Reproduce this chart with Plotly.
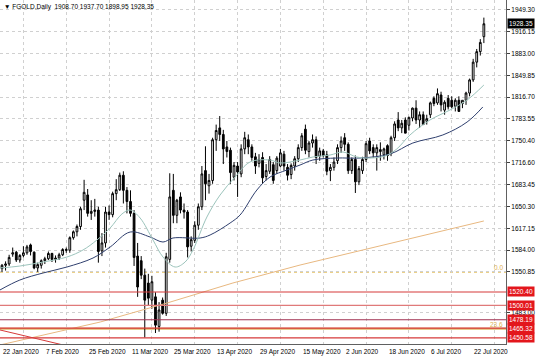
import plotly.graph_objects as go

# ---------------- data ----------------
tick_labels = ["22 Jan 2020", "7 Feb 2020", "25 Feb 2020", "11 Mar 2020", "25 Mar 2020",
               "13 Apr 2020", "29 Apr 2020", "15 May 2020", "2 Jun 2020", "18 Jun 2020",
               "6 Jul 2020", "22 Jul 2020"]
tick_bars = [0, 12, 24, 36, 48, 60, 72, 84, 96, 108, 120, 132]

opens = [1556, 1561, 1563, 1578, 1581, 1569, 1576, 1580, 1592, 1581, 1557, 1561, 1568, 1571, 1579, 1570,
         1572, 1577, 1585, 1584, 1603, 1612, 1620, 1660, 1668, 1640, 1643, 1645, 1583, 1595, 1642, 1638,
         1670, 1676, 1698, 1675, 1658, 1640, 1575, 1568, 1546, 1534, 1508, 1513, 1468, 1508, 1488, 1570,
         1675, 1637, 1665, 1645, 1642, 1590, 1599, 1622, 1650, 1705, 1682, 1690, 1752, 1770, 1760, 1741,
         1736, 1695, 1712, 1700, 1738, 1752, 1741, 1726, 1716, 1725, 1696, 1704, 1714, 1705, 1712, 1730,
         1710, 1699, 1712, 1723, 1740, 1768, 1734, 1747, 1752, 1727, 1735, 1729, 1705, 1710, 1720, 1740,
         1755, 1745, 1705, 1722, 1688, 1705, 1722, 1750, 1740, 1732, 1734, 1729, 1743, 1731, 1755, 1782,
         1770, 1782, 1774, 1785, 1800, 1782, 1790, 1780, 1790, 1815, 1808, 1820, 1797, 1815, 1812, 1803,
         1812, 1807, 1812, 1823, 1843, 1870, 1886, 1908.70]
highs = [1563, 1567, 1577, 1588, 1583, 1578, 1590, 1592, 1594, 1582, 1565, 1570, 1574, 1582, 1580, 1576,
         1580, 1587, 1588, 1605, 1614, 1623, 1650, 1691, 1677, 1660, 1662, 1650, 1610, 1650, 1652, 1673,
         1692, 1702, 1704, 1680, 1675, 1645, 1595, 1575, 1556, 1548, 1545, 1520, 1505, 1512, 1580, 1701,
         1700, 1662, 1672, 1655, 1645, 1605, 1628, 1655, 1712, 1742, 1700, 1755, 1775, 1788, 1767, 1750,
         1740, 1718, 1718, 1745, 1764, 1760, 1745, 1732, 1730, 1733, 1715, 1727, 1718, 1727, 1738, 1735,
         1715, 1716, 1727, 1745, 1762, 1775, 1750, 1760, 1757, 1740, 1738, 1735, 1715, 1725, 1745, 1757,
         1762, 1748, 1725, 1728, 1712, 1726, 1750, 1755, 1745, 1745, 1748, 1740, 1745, 1758, 1780, 1794,
         1782, 1786, 1787, 1801, 1812, 1795, 1795, 1790, 1810, 1818, 1830, 1825, 1812, 1820, 1818, 1815,
         1818, 1812, 1825, 1845, 1875, 1890, 1905, 1937.70]
lows = [1551, 1553, 1560, 1574, 1566, 1565, 1573, 1577, 1576, 1555, 1551, 1556, 1563, 1569, 1566, 1565,
        1569, 1575, 1580, 1580, 1600, 1605, 1615, 1645, 1635, 1630, 1635, 1565, 1575, 1588, 1630, 1634,
        1660, 1674, 1655, 1640, 1635, 1560, 1513, 1540, 1451, 1500, 1495, 1458, 1460, 1486, 1484, 1565,
        1625, 1625, 1640, 1632, 1573, 1582, 1595, 1615, 1645, 1660, 1670, 1685, 1735, 1750, 1715, 1725,
        1685, 1690, 1665, 1695, 1730, 1730, 1720, 1700, 1710, 1685, 1690, 1700, 1685, 1700, 1710, 1705,
        1690, 1692, 1705, 1718, 1735, 1730, 1725, 1740, 1715, 1720, 1725, 1698, 1689, 1705, 1715, 1732,
        1735, 1700, 1700, 1671, 1683, 1700, 1718, 1730, 1725, 1705, 1720, 1722, 1720, 1727, 1750, 1765,
        1762, 1762, 1766, 1780, 1776, 1770, 1775, 1775, 1785, 1803, 1805, 1795, 1790, 1798, 1800, 1795,
        1795, 1800, 1805, 1818, 1840, 1862, 1880, 1898.95]
closes = [1561, 1563, 1573, 1580, 1569, 1576, 1580, 1589, 1582, 1557, 1562, 1568, 1571, 1579, 1570, 1572,
          1577, 1585, 1584, 1603, 1612, 1620, 1647, 1672, 1640, 1643, 1645, 1582, 1595, 1642, 1638, 1670,
          1676, 1698, 1675, 1658, 1640, 1573, 1528, 1546, 1508, 1511, 1536, 1470, 1493, 1488, 1574, 1665,
          1637, 1660, 1645, 1642, 1589, 1600, 1622, 1650, 1700, 1685, 1690, 1752, 1766, 1760, 1738, 1734,
          1702, 1713, 1703, 1738, 1755, 1741, 1725, 1712, 1722, 1694, 1705, 1722, 1690, 1724, 1732, 1712,
          1698, 1713, 1723, 1740, 1758, 1736, 1747, 1752, 1725, 1735, 1728, 1704, 1710, 1718, 1740, 1750,
          1745, 1705, 1722, 1688, 1708, 1722, 1746, 1735, 1732, 1740, 1737, 1738, 1728, 1755, 1776, 1770,
          1777, 1762, 1786, 1800, 1782, 1790, 1775, 1784, 1808, 1807, 1822, 1805, 1809, 1802, 1802, 1812,
          1795, 1812, 1823, 1843, 1870, 1886, 1900, 1928.35]
bars = list(range(len(opens)))

# moving averages (bar position, price)
ma_fast_bar = [-0.6, 5.0, 11.5, 18.2, 22.7, 26.6, 30.3, 33.6, 35.9, 38.7, 42.3, 45.1, 48.5, 51.3, 53.5,
               57.4, 61.1, 65.3, 69.5, 75.1, 77.9, 83.5, 87.1, 91.9, 95.5, 99.4, 103.1, 107.3, 110.6,
               114.3, 119.9, 125.5, 130.3, 135.0]
ma_fast = [1556.9, 1559.9, 1566.0, 1573.6, 1584.3, 1599.5, 1617.7, 1639.0, 1645.1, 1632.9, 1599.5,
           1573.6, 1558.4, 1566.0, 1584.3, 1634.4, 1667.9, 1695.3, 1718.1, 1721.1, 1716.6, 1721.1,
           1725.7, 1728.7, 1733.3, 1725.7, 1724.2, 1727.2, 1737.9, 1759.2, 1782.0, 1797.2, 1812.4, 1835.2]
ma_slow_bar = [-0.6, 5.0, 11.5, 18.2, 25.5, 30.3, 35.9, 41.5, 45.1, 47.9, 55.5, 58.3, 63.9, 66.7, 71.4,
               75.1, 79.8, 83.5, 87.1, 93.8, 100.3, 108.7, 115.1, 123.5, 130.3, 134.7]
ma_slow = [1523.4, 1538.6, 1549.3, 1558.4, 1572.1, 1588.8, 1611.6, 1604.0, 1596.4, 1602.5, 1602.5,
           1607.1, 1625.3, 1637.5, 1675.5, 1695.3, 1705.9, 1713.5, 1721.1, 1724.2, 1724.2, 1730.3,
           1747.0, 1759.2, 1778.9, 1801.8]
ma_long_bar = [-0.6, 27.5, 46.2, 64.7, 83.5, 111.5, 135.0]
ma_long = [1439.8, 1474.7, 1503.6, 1534.1, 1561.4, 1598.0, 1628.4]

trend_bar = [-1.0, 30.0]
trend_price = [1463.2, 1423.2]

level_prices = [1520.40, 1500.01, 1478.19, 1465.32, 1450.58]
level_colors = ["#d63a3a", "#e07a7a", "#a03050", "#d63a3a", "#d63a3a"]
fib_prices = [1550.3, 1464.4]
fib_texts = ["0.0", "23.6"]

price_ticks = [1949.30, 1916.15, 1883.00, 1849.85, 1816.70, 1783.55, 1750.40, 1716.60, 1683.45,
               1650.30, 1617.15, 1584.00, 1550.85, 1483.00]
price_tick_pos = price_ticks[:-1] + [1488.6]

title_text = "FGOLD,Daily  1908.70 1937.70 1898.95 1928.35"

# ---------------- figure ----------------
FONT = "Liberation Sans, Arial, sans-serif"
fig = go.Figure()

fig.add_trace(go.Scatter(x=ma_long_bar, y=ma_long, mode="lines",
                         line=dict(color="#e8b880", width=1), hoverinfo="skip"))
fig.add_trace(go.Scatter(x=trend_bar, y=trend_price, mode="lines",
                         line=dict(color="#d63a3a", width=1), hoverinfo="skip"))
fig.add_trace(go.Scatter(x=ma_slow_bar, y=ma_slow, mode="lines", line_shape="spline",
                         line=dict(color="#2f3f6e", width=1), hoverinfo="skip"))
fig.add_trace(go.Scatter(x=ma_fast_bar, y=ma_fast, mode="lines", line_shape="spline",
                         line=dict(color="#9cc4bc", width=1), hoverinfo="skip"))

fig.add_trace(go.Candlestick(
    x=bars, open=opens, high=highs, low=lows, close=closes,
    increasing=dict(line=dict(color="black", width=1), fillcolor="white"),
    decreasing=dict(line=dict(color="black", width=1), fillcolor="black"),
    whiskerwidth=0, hoverinfo="skip"))

shapes = []
annotations = []
# fib lines
shapes.append(dict(type="line", xref="paper", x0=0, x1=1, yref="y", y0=fib_prices[0], y1=fib_prices[0],
                   line=dict(color="#e8c870", width=1, dash="dot"), layer="below"))
shapes.append(dict(type="line", xref="paper", x0=0, x1=1, yref="y", y0=fib_prices[1], y1=fib_prices[1],
                   line=dict(color="#e0b868", width=2), layer="below"))
for p, t in zip(fib_prices, fib_texts):
    annotations.append(dict(x=0.998, xref="paper", y=p, yref="y", text=t, showarrow=False,
                            xanchor="right", yanchor="bottom", yshift=-1,
                            font=dict(family=FONT, size=6.5, color="#e0b050")))
# horizontal red levels
for p, c in zip(level_prices, level_colors):
    shapes.append(dict(type="line", xref="paper", x0=0, x1=1, yref="y", y0=p, y1=p,
                       line=dict(color=c, width=1.2)))
    annotations.append(dict(x=1, xref="paper", y=p, yref="y", text=f"{p:.2f}", showarrow=False,
                            xanchor="left", yanchor="middle", xshift=1,
                            bgcolor="#e3161c", borderpad=1,
                            font=dict(family=FONT, size=6.5, color="white")))
# current price label
annotations.append(dict(x=1, xref="paper", y=closes[-1], yref="y", text=f"{closes[-1]:.2f}",
                        showarrow=False, xanchor="left", yanchor="middle", xshift=1,
                        bgcolor="black", borderpad=1, font=dict(family=FONT, size=6.5, color="white")))
# date labels
for b, t in zip(tick_bars, tick_labels):
    annotations.append(dict(x=b, xref="x", y=0, yref="paper", text=t, showarrow=False,
                            xanchor="left", yanchor="top", yshift=-2, xshift=-1,
                            font=dict(family=FONT, size=6.5, color="black")))
# title
annotations.append(dict(x=0, xref="paper", y=1, yref="paper", text="\u25BC " + title_text,
                        showarrow=False, xanchor="left", yanchor="top", xshift=2, yshift=-1,
                        font=dict(family=FONT, size=6.5, color="black")))

grid_bars = [b + 6 for b in tick_bars]

fig.update_layout(
    width=536, height=357,
    margin=dict(l=0, r=30, t=0, b=13),
    paper_bgcolor="white", plot_bgcolor="white",
    showlegend=False,
    shapes=shapes, annotations=annotations,
    xaxis=dict(range=[-0.56, 141.2], rangeslider=dict(visible=False),
               tickvals=grid_bars, showticklabels=False, ticks="",
               showgrid=True, gridcolor="#d0d0d0", griddash="dot", gridwidth=1,
               showline=True, linecolor="#606060", linewidth=1, mirror=False, zeroline=False,
               fixedrange=True),
    yaxis=dict(range=[1441.3, 1964.5], side="right",
               tickvals=price_tick_pos, ticktext=[f"{v:.2f}" for v in price_ticks],
               ticks="outside", ticklen=3, tickcolor="#404040",
               tickfont=dict(family=FONT, size=6.5, color="black"),
               showgrid=True, gridcolor="#d0d0d0", griddash="dot", gridwidth=1,
               showline=True, linecolor="#606060", linewidth=1, zeroline=False,
               fixedrange=True),
    hovermode=False,
)

fig.write_html("out.html")
